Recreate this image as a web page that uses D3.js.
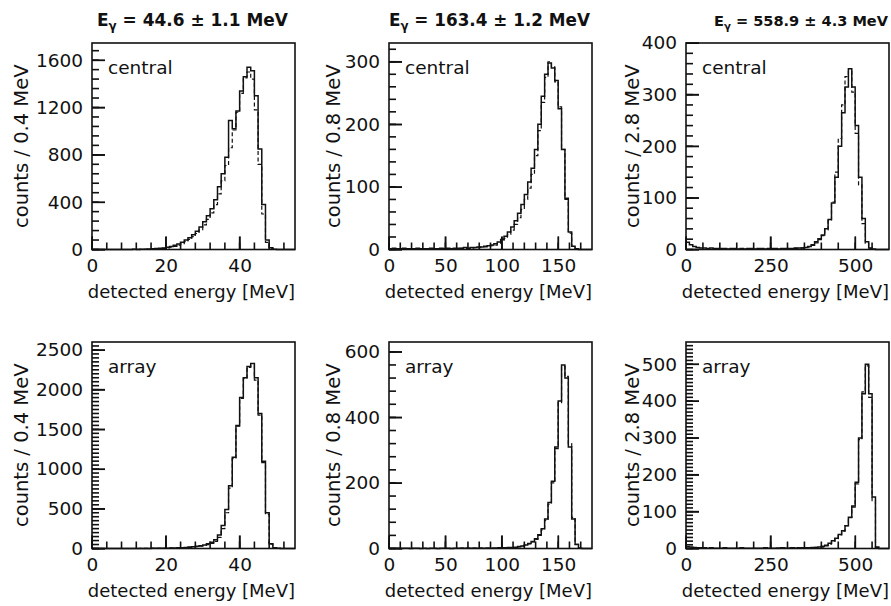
<!DOCTYPE html>
<html>
<head>
<meta charset="utf-8">
<script src="https://cdn.jsdelivr.net/npm/d3@7"></script>
<style>
  body { margin: 0; background: #fff; }
  text { font-family: "DejaVu Sans", sans-serif; fill: #111; }
</style>
</head>
<body>
<div id="chart"></div>
<script>
// Detected energy spectra, central detector (top) and array (bottom)
// counts per drawn bin

var beamEnergies = ["44.6 \u00b1 1.1", "163.4 \u00b1 1.2", "558.9 \u00b1 4.3"];
var binLabels = ["0.4", "0.8", "2.8"];
var detectorLabels = ["central", "array"];

var xMax = [55, 180, 600];
var xMajorTicks = [[0, 20, 40], [0, 50, 100, 150], [0, 250, 500]];
var xMinorStep = [4, 10, 50];
var drawBin = [1, 3, 10];   // MeV per drawn step

var yMax = [[1745, 330, 400], [2600, 630, 560]];
var yMajorTicks = [
    [[0, 400, 800, 1200, 1600], [0, 100, 200, 300], [0, 100, 200, 300, 400]],
    [[0, 500, 1000, 1500, 2000, 2500], [0, 200, 400, 600], [0, 100, 200, 300, 400, 500]]
];
var yMinorStep = [[80, 20, 20], [50, 40, 10]];

// 44.6 MeV, 1 MeV steps
var central44Solid = [0, 0, 0, 0, 0, 0, 0, 0, 1, 0,
    1, 2, 1, 3, 3, 5, 6, 8, 10, 13,
    18, 25, 35, 47, 62, 80, 100, 125, 155, 190,
    235, 285, 345, 420, 530, 640, 780, 1090, 1020, 1170,
    1340, 1460, 1540, 1510, 1300, 850, 380, 80, 15, 3,
    1, 0, 0, 0, 0];
var central44Dashed = [0, 0, 0, 0, 0, 0, 0, 0, 0, 0,
    0, 1, 1, 2, 2, 3, 4, 6, 8, 10,
    14, 19, 27, 37, 50, 66, 85, 108, 135, 168,
    208, 255, 310, 380, 470, 580, 710, 860, 1010, 1160,
    1320, 1450, 1500, 1440, 1180, 720, 300, 60, 10, 2,
    0, 0, 0, 0, 0];
var array44Solid = [0, 0, 0, 0, 0, 0, 0, 0, 0, 0,
    0, 1, 0, 1, 1, 1, 2, 2, 3, 3,
    4, 5, 7, 9, 11, 14, 18, 22, 28, 35,
    45, 60, 80, 110, 170, 290, 490, 790, 1150, 1550,
    1900, 2150, 2290, 2330, 2150, 1700, 1100, 450, 60, 8,
    2, 0, 0, 0, 0];
var array44Dashed = [0, 0, 0, 0, 0, 0, 0, 0, 0, 0,
    0, 0, 0, 1, 1, 1, 1, 2, 2, 3,
    3, 4, 5, 7, 9, 12, 15, 19, 24, 30,
    38, 50, 65, 90, 140, 250, 450, 760, 1130, 1540,
    1890, 2140, 2280, 2300, 2120, 1680, 1080, 430, 55, 6,
    1, 0, 0, 0, 0];

// 163.4 MeV, 3 MeV steps
var central163Solid = [1, 2, 1, 1, 2, 1, 1, 1, 2, 1,
    1, 1, 2, 1, 1, 2, 1, 2, 1, 2,
    2, 2, 3, 2, 3, 3, 4, 4, 5, 6,
    7, 9, 12, 16, 21, 28, 36, 46, 58, 72,
    88, 108, 130, 160, 200, 245, 280, 298, 290, 270,
    225, 160, 82, 28, 5, 1, 0, 0, 0, 0];
var central163Dashed = [0, 0, 1, 0, 0, 1, 0, 0, 1, 0,
    0, 1, 0, 1, 0, 1, 1, 1, 1, 1,
    1, 2, 2, 2, 2, 3, 3, 4, 4, 5,
    6, 7, 10, 13, 18, 24, 31, 40, 51, 64,
    80, 98, 120, 150, 190, 235, 275, 300, 292, 268,
    228, 160, 80, 26, 5, 1, 0, 0, 0, 0];
var array163Solid = [1, 1, 1, 0, 1, 1, 0, 1, 1, 0,
    1, 0, 1, 1, 0, 1, 1, 1, 0, 1,
    1, 1, 1, 1, 1, 1, 1, 1, 1, 1,
    1, 1, 2, 2, 2, 3, 3, 4, 6, 8,
    11, 15, 21, 30, 42, 60, 90, 140, 205, 310,
    450, 560, 520, 310, 90, 12, 1, 0, 0, 0];
var array163Dashed = [0, 0, 0, 0, 0, 0, 0, 0, 0, 0,
    0, 0, 0, 0, 0, 0, 0, 0, 0, 0,
    0, 1, 0, 1, 1, 1, 1, 1, 1, 1,
    1, 1, 1, 2, 2, 2, 2, 3, 5, 7,
    10, 14, 20, 28, 40, 57, 86, 135, 200, 305,
    445, 555, 525, 320, 95, 13, 1, 0, 0, 0];

// 558.9 MeV, 10 MeV steps
var central559Solid = [14, 9, 6, 4, 3, 3, 2, 3, 2, 2,
    2, 2, 1, 2, 2, 1, 2, 1, 2, 2,
    1, 2, 2, 1, 2, 2, 2, 1, 2, 2,
    2, 2, 3, 3, 3, 4, 6, 9, 15, 21,
    28, 40, 58, 90, 140, 200, 265, 315, 350, 315,
    240, 140, 60, 15, 3, 1, 0, 0, 0, 0];
var central559Dashed = [0, 0, 0, 0, 0, 0, 0, 0, 0, 0,
    0, 0, 0, 0, 0, 0, 0, 0, 0, 0,
    0, 0, 0, 0, 0, 0, 1, 0, 1, 1,
    1, 1, 2, 2, 3, 4, 5, 8, 13, 19,
    27, 38, 56, 92, 150, 215, 280, 335, 345, 305,
    225, 125, 50, 12, 2, 0, 0, 0, 0, 0];
var array559Solid = [5, 4, 3, 2, 2, 2, 1, 2, 1, 1,
    1, 2, 1, 1, 1, 1, 2, 1, 1, 1,
    1, 1, 1, 2, 1, 1, 1, 1, 2, 1,
    1, 2, 1, 2, 2, 2, 2, 3, 3, 4,
    6, 9, 14, 21, 28, 38, 48, 62, 85, 115,
    180, 300, 420, 500, 420, 140, 4, 0, 0, 0];
var array559Dashed = [0, 0, 0, 0, 0, 0, 0, 0, 0, 0,
    0, 0, 0, 0, 0, 0, 0, 0, 0, 0,
    0, 0, 0, 0, 1, 0, 1, 1, 1, 1,
    1, 1, 1, 1, 2, 2, 2, 2, 3, 3,
    4, 7, 12, 19, 27, 37, 47, 62, 84, 112,
    175, 295, 425, 495, 410, 130, 3, 0, 0, 0];

var solidSeries = [[central44Solid, central163Solid, central559Solid],
                   [array44Solid, array163Solid, array559Solid]];
var dashedSeries = [[central44Dashed, central163Dashed, central559Dashed],
                    [array44Dashed, array163Dashed, array559Dashed]];

// layout
var svgWidth = 891;
var svgHeight = 606;
var colLeft = [92, 389, 686];
var rowTop = [43, 342];
var frameW = 203;
var frameH = 206.5;
var titleSpan = [[97, 288], [389, 590], [714, 888]];
var titleSize = [17, 17, 14.5];
var yTitleOffset = [64, 49, 47];

var svg = d3.select("#chart")
    .append("svg")
    .attr("width", svgWidth)
    .attr("height", svgHeight);

detectorLabels.forEach(function (det, r) {
    beamEnergies.forEach(function (en, c) {
        var left = colLeft[c], top = rowTop[r];
        var g = svg.append("g").attr("transform", `translate(${left}, ${top})`);

        var x = d3.scaleLinear().domain([0, xMax[c]]).range([0, frameW]);
        var y = d3.scaleLinear().domain([0, yMax[r][c]]).range([frameH, 0]);

        // histograms
        var line = d3.line()
            .x(d => x(d[0]))
            .y(d => y(d[1]))
            .curve(d3.curveStepAfter);
        function pts(vals) {
            var p = vals.map((v, i) => [i * drawBin[c], v]);
            p.push([vals.length * drawBin[c], vals[vals.length - 1]]);
            return p;
        }
        g.append("path")
            .attr("d", line(pts(dashedSeries[r][c])))
            .attr("fill", "none")
            .attr("stroke", "#111")
            .attr("stroke-width", 1.2)
            .attr("stroke-dasharray", "4,2.5");
        g.append("path")
            .attr("d", line(pts(solidSeries[r][c])))
            .attr("fill", "none")
            .attr("stroke", "#111")
            .attr("stroke-width", 1.5);

        // frame
        g.append("rect")
            .attr("width", frameW)
            .attr("height", frameH)
            .attr("fill", "none")
            .attr("stroke", "#111")
            .attr("stroke-width", 1.6);

        // tick labels
        var yAx = g.append("g")
            .call(d3.axisLeft(y).tickValues(yMajorTicks[r][c]).tickSize(-13).tickPadding(9)
                .tickFormat(d3.format("d")));
        var xAx = g.append("g")
            .attr("transform", `translate(0, ${frameH})`)
            .call(d3.axisBottom(x).tickValues(xMajorTicks[c]).tickSize(-13).tickPadding(9)
                .tickFormat(d3.format("d")));
        [yAx, xAx].forEach(function (a) {
            a.select(".domain").remove();
            a.selectAll("text").attr("font-size", 18.5).attr("font-family", "DejaVu Sans");
        });

        // tick marks inside the frame, drawn last
        var tickG = g.append("g");
        function ticks(vals, len, vertical) {
            vals.forEach(function (d) {
                tickG.append("rect")
                    .attr("x", vertical ? x(d) - 0.8 : 0)
                    .attr("y", vertical ? frameH - len : y(d) - 0.8)
                    .attr("width", vertical ? 1.6 : len)
                    .attr("height", vertical ? len : 1.6)
                    .attr("fill", "#111");
            });
        }
        ticks(d3.range(0, yMax[r][c], yMinorStep[r][c]), 7, false);
        ticks(yMajorTicks[r][c], 13, false);
        ticks(d3.range(0, xMax[c], xMinorStep[c]), 7, true);
        ticks(xMajorTicks[c], 13, true);

        g.append("text")
            .attr("x", 16)
            .attr("y", 31)
            .attr("font-size", 18.5)
            .text(det);

        g.append("text")
            .attr("x", frameW)
            .attr("y", frameH + 48)
            .attr("text-anchor", "end")
            .attr("font-size", 18)
            .text("detected energy [MeV]");

        g.append("text")
            .attr("transform", `translate(${-yTitleOffset[c]}, ${frameH / 2}) rotate(-90)`)
            .attr("text-anchor", "middle")
            .attr("font-size", 19.5)
            .text("counts / " + binLabels[c] + " MeV");
    });
});

// titles
beamEnergies.forEach(function (en, c) {
    var t = svg.append("text")
        .attr("x", titleSpan[c][0])
        .attr("y", 26)
        .attr("font-size", titleSize[c])
        .attr("font-weight", "bold")
        .attr("textLength", titleSpan[c][1] - titleSpan[c][0])
        .attr("lengthAdjust", "spacingAndGlyphs");
    t.append("tspan").text("E");
    t.append("tspan").attr("dy", 4).attr("font-size", titleSize[c] * 0.7).text("\u03b3");
    t.append("tspan").attr("dy", -4).text(" = " + en + " MeV");
});
</script>
</body>
</html>
